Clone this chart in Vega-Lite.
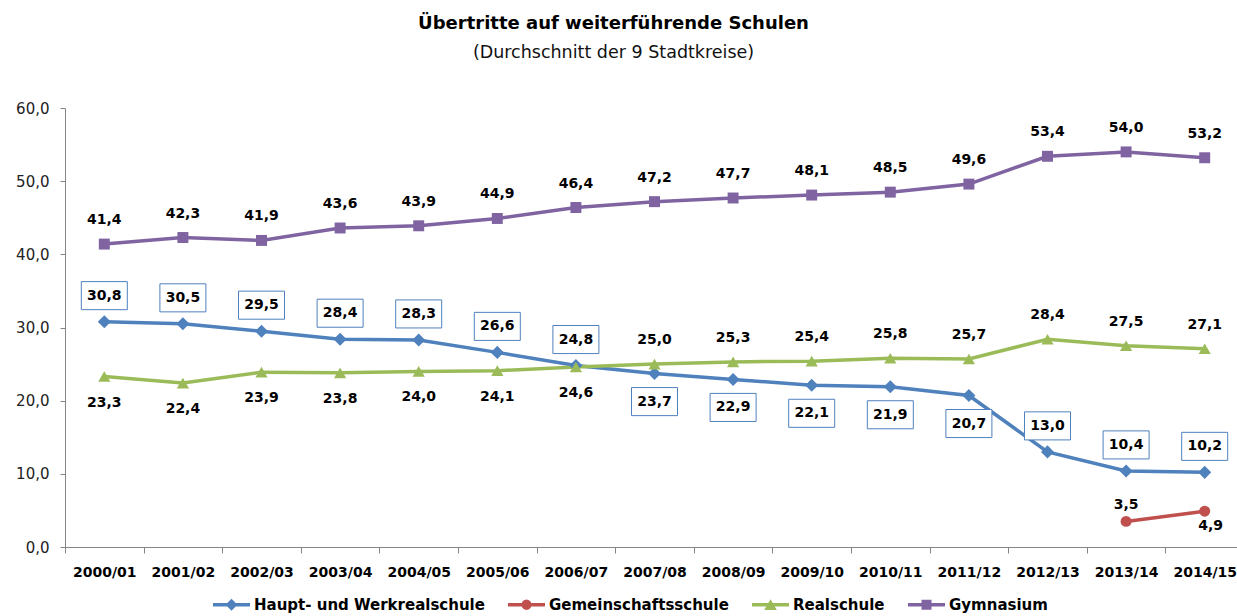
{
  "$schema": "https://vega.github.io/schema/vega-lite/v6.json",
  "width": 1179,
  "height": 439,
  "autosize": {"type": "none"},
  "padding": {"left": 65, "top": 108, "right": 0, "bottom": 69},
  "background": "white",
  "title": {
    "text": "Übertritte auf weiterführende Schulen",
    "subtitle": "(Durchschnitt der 9 Stadtkreise)",
    "anchor": "middle",
    "dx": -41,
    "offset": 40,
    "font": "DejaVu Sans",
    "fontSize": 18,
    "fontWeight": "bold",
    "color": "#000000",
    "subtitleFont": "DejaVu Sans",
    "subtitleFontSize": 17.5,
    "subtitleColor": "#111111",
    "subtitlePadding": 11
  },
  "config": {
    "view": {"stroke": null},
    "locale": {"number": {"decimal": ",", "thousands": ".", "grouping": [3], "currency": ["", " €"]}}
  },
  "data": {
    "values": [
      {"year": "2000/01", "series": "Haupt- und Werkrealschule", "value": 30.8},
      {"year": "2001/02", "series": "Haupt- und Werkrealschule", "value": 30.5},
      {"year": "2002/03", "series": "Haupt- und Werkrealschule", "value": 29.5},
      {"year": "2003/04", "series": "Haupt- und Werkrealschule", "value": 28.4},
      {"year": "2004/05", "series": "Haupt- und Werkrealschule", "value": 28.3},
      {"year": "2005/06", "series": "Haupt- und Werkrealschule", "value": 26.6},
      {"year": "2006/07", "series": "Haupt- und Werkrealschule", "value": 24.8},
      {"year": "2007/08", "series": "Haupt- und Werkrealschule", "value": 23.7},
      {"year": "2008/09", "series": "Haupt- und Werkrealschule", "value": 22.9},
      {"year": "2009/10", "series": "Haupt- und Werkrealschule", "value": 22.1},
      {"year": "2010/11", "series": "Haupt- und Werkrealschule", "value": 21.9},
      {"year": "2011/12", "series": "Haupt- und Werkrealschule", "value": 20.7},
      {"year": "2012/13", "series": "Haupt- und Werkrealschule", "value": 13.0},
      {"year": "2013/14", "series": "Haupt- und Werkrealschule", "value": 10.4},
      {"year": "2014/15", "series": "Haupt- und Werkrealschule", "value": 10.2},
      {"year": "2013/14", "series": "Gemeinschaftsschule", "value": 3.5},
      {"year": "2014/15", "series": "Gemeinschaftsschule", "value": 4.9},
      {"year": "2000/01", "series": "Realschule", "value": 23.3},
      {"year": "2001/02", "series": "Realschule", "value": 22.4},
      {"year": "2002/03", "series": "Realschule", "value": 23.9},
      {"year": "2003/04", "series": "Realschule", "value": 23.8},
      {"year": "2004/05", "series": "Realschule", "value": 24.0},
      {"year": "2005/06", "series": "Realschule", "value": 24.1},
      {"year": "2006/07", "series": "Realschule", "value": 24.6},
      {"year": "2007/08", "series": "Realschule", "value": 25.0},
      {"year": "2008/09", "series": "Realschule", "value": 25.3},
      {"year": "2009/10", "series": "Realschule", "value": 25.4},
      {"year": "2010/11", "series": "Realschule", "value": 25.8},
      {"year": "2011/12", "series": "Realschule", "value": 25.7},
      {"year": "2012/13", "series": "Realschule", "value": 28.4},
      {"year": "2013/14", "series": "Realschule", "value": 27.5},
      {"year": "2014/15", "series": "Realschule", "value": 27.1},
      {"year": "2000/01", "series": "Gymnasium", "value": 41.4},
      {"year": "2001/02", "series": "Gymnasium", "value": 42.3},
      {"year": "2002/03", "series": "Gymnasium", "value": 41.9},
      {"year": "2003/04", "series": "Gymnasium", "value": 43.6},
      {"year": "2004/05", "series": "Gymnasium", "value": 43.9},
      {"year": "2005/06", "series": "Gymnasium", "value": 44.9},
      {"year": "2006/07", "series": "Gymnasium", "value": 46.4},
      {"year": "2007/08", "series": "Gymnasium", "value": 47.2},
      {"year": "2008/09", "series": "Gymnasium", "value": 47.7},
      {"year": "2009/10", "series": "Gymnasium", "value": 48.1},
      {"year": "2010/11", "series": "Gymnasium", "value": 48.5},
      {"year": "2011/12", "series": "Gymnasium", "value": 49.6},
      {"year": "2012/13", "series": "Gymnasium", "value": 53.4},
      {"year": "2013/14", "series": "Gymnasium", "value": 54.0},
      {"year": "2014/15", "series": "Gymnasium", "value": 53.2}
    ]
  },
  "encoding": {
    "x": {
      "field": "year",
      "type": "nominal",
      "sort": null,
      "scale": {"type": "band", "paddingInner": 0, "paddingOuter": 0},
      "axis": {
        "title": null,
        "labelAngle": 0,
        "labelFont": "DejaVu Sans",
        "labelFontSize": 14,
        "labelFontWeight": "bold",
        "labelColor": "#000000",
        "labelPadding": 12,
        "tickBand": "extent",
        "tickSize": 6,
        "tickColor": "#868686",
        "domainColor": "#868686",
        "grid": false
      }
    },
    "y": {
      "field": "value",
      "type": "quantitative",
      "scale": {"domain": [0, 60], "nice": false},
      "axis": {
        "title": null,
        "values": [0, 10, 20, 30, 40, 50, 60],
        "format": ".1f",
        "labelFont": "DejaVu Sans",
        "labelFontSize": 15,
        "labelColor": "#222222",
        "labelPadding": 11,
        "tickSize": 5,
        "tickColor": "#868686",
        "domainColor": "#868686",
        "grid": false
      }
    }
  },
  "layer": [
    {
      "mark": {"type": "line", "strokeWidth": 3.5},
      "encoding": {
        "color": {
          "field": "series",
          "type": "nominal",
          "scale": {
            "domain": ["Haupt- und Werkrealschule", "Gemeinschaftsschule", "Realschule", "Gymnasium"],
            "range": ["#4F81BD", "#C0504D", "#9BBB59", "#8064A2"]
          },
          "legend": {
            "orient": "none",
            "legendX": 148,
            "legendY": 478,
            "direction": "horizontal",
            "title": null,
            "padding": 0,
            "symbolSize": 1369,
            "symbolType": "M-1,-0.09H1V0.09H-1Z",
            "labelFont": "DejaVu Sans",
            "labelFontSize": 15,
            "labelFontWeight": "bold",
            "labelColor": "#000000",
            "labelOffset": 4,
            "columnPadding": 23,
            "labelLimit": 400,
            "encode": {
              "symbols": {
                "update": {
                  "shape": {"signal": "datum.value === 'Haupt- und Werkrealschule' ? 'M-1,-0.09H1V0.09H-1Z M0,-0.32L0.32,0L0,0.32L-0.32,0Z' : datum.value === 'Gemeinschaftsschule' ? 'M-1,-0.09H1V0.09H-1Z M0.28,0L0.2425,0.14L0.14,0.2425L0,0.28L-0.14,0.2425L-0.2425,0.14L-0.28,0L-0.2425,-0.14L-0.14,-0.2425L0,-0.28L0.14,-0.2425L0.2425,-0.14Z' : datum.value === 'Realschule' ? 'M-1,-0.09H1V0.09H-1Z M0,-0.3L0.34,0.28H-0.34Z' : 'M-1,-0.09H1V0.09H-1Z M-0.27,-0.27H0.27V0.27H-0.27Z'"},
                  "fill": {"signal": "datum.value === 'Haupt- und Werkrealschule' ? '#4F81BD' : datum.value === 'Gemeinschaftsschule' ? '#C0504D' : datum.value === 'Realschule' ? '#9BBB59' : '#8064A2'"},
                  "stroke": {"value": "transparent"},
                  "strokeWidth": {"value": 0},
                  "opacity": {"value": 1},
                  "fillOpacity": {"value": 1}
                }
              }
            }
          }
        }
      }
    },
    {
      "transform": [{"filter": "datum.series === 'Haupt- und Werkrealschule'"}],
      "mark": {"type": "point", "shape": "diamond", "filled": true, "size": 170, "opacity": 1, "color": "#4F81BD"},
      "encoding": {}
    },
    {
      "transform": [{"filter": "datum.series === 'Gemeinschaftsschule'"}],
      "mark": {"type": "point", "shape": "circle", "filled": true, "size": 120, "opacity": 1, "color": "#C0504D"},
      "encoding": {}
    },
    {
      "transform": [{"filter": "datum.series === 'Realschule'"}],
      "mark": {"type": "point", "shape": "triangle-up", "filled": true, "size": 150, "opacity": 1, "color": "#9BBB59"},
      "encoding": {}
    },
    {
      "transform": [{"filter": "datum.series === 'Gymnasium'"}],
      "mark": {"type": "point", "shape": "square", "filled": true, "size": 120, "opacity": 1, "color": "#8064A2"},
      "encoding": {}
    },
    {
      "transform": [{"filter": "datum.series === 'Haupt- und Werkrealschule' && indexof(['2007/08','2008/09','2009/10','2010/11','2011/12'], datum.year) < 0"}],
      "mark": {"type": "point", "shape": "M-1,-0.61H1V0.61H-1Z", "size": 2116, "filled": false, "fill": "white", "fillOpacity": 1, "stroke": "#4F81BD", "strokeWidth": 1, "opacity": 1, "yOffset": -26},
      "encoding": {}
    },
    {
      "transform": [{"filter": "datum.series === 'Haupt- und Werkrealschule' && indexof(['2007/08','2008/09','2009/10','2010/11','2011/12'], datum.year) >= 0"}],
      "mark": {"type": "point", "shape": "M-1,-0.61H1V0.61H-1Z", "size": 2116, "filled": false, "fill": "white", "fillOpacity": 1, "stroke": "#4F81BD", "strokeWidth": 1, "opacity": 1, "yOffset": 28},
      "encoding": {}
    },
    {
      "transform": [{"filter": "(datum.series === 'Haupt- und Werkrealschule' && indexof(['2007/08','2008/09','2009/10','2010/11','2011/12'], datum.year) < 0)"}],
      "mark": {"type": "text", "font": "DejaVu Sans", "fontSize": 14, "fontWeight": "bold", "color": "#000000", "baseline": "middle", "align": "center", "dy": -26},
      "encoding": {"text": {"field": "value", "type": "quantitative", "format": ".1f"}}
    },
    {
      "transform": [{"filter": "datum.series === 'Gymnasium' || (datum.series === 'Realschule' && indexof(['2000/01','2001/02','2002/03','2003/04','2004/05','2005/06','2006/07'], datum.year) < 0)"}],
      "mark": {"type": "text", "font": "DejaVu Sans", "fontSize": 14, "fontWeight": "bold", "color": "#000000", "baseline": "middle", "align": "center", "dy": -24},
      "encoding": {"text": {"field": "value", "type": "quantitative", "format": ".1f"}}
    },
    {
      "transform": [{"filter": "datum.series === 'Haupt- und Werkrealschule' && indexof(['2007/08','2008/09','2009/10','2010/11','2011/12'], datum.year) >= 0"}],
      "mark": {"type": "text", "font": "DejaVu Sans", "fontSize": 14, "fontWeight": "bold", "color": "#000000", "baseline": "middle", "align": "center", "dy": 28},
      "encoding": {"text": {"field": "value", "type": "quantitative", "format": ".1f"}}
    },
    {
      "transform": [{"filter": "datum.series === 'Realschule' && indexof(['2000/01','2001/02','2002/03','2003/04','2004/05','2005/06','2006/07'], datum.year) >= 0"}],
      "mark": {"type": "text", "font": "DejaVu Sans", "fontSize": 14, "fontWeight": "bold", "color": "#000000", "baseline": "middle", "align": "center", "dy": 26},
      "encoding": {"text": {"field": "value", "type": "quantitative", "format": ".1f"}}
    },
    {
      "transform": [{"filter": "datum.series === 'Gemeinschaftsschule' && datum.year === '2013/14'"}],
      "mark": {"type": "text", "font": "DejaVu Sans", "fontSize": 14, "fontWeight": "bold", "color": "#000000", "baseline": "middle", "align": "center", "dy": -16},
      "encoding": {"text": {"field": "value", "type": "quantitative", "format": ".1f"}}
    },
    {
      "transform": [{"filter": "datum.series === 'Gemeinschaftsschule' && datum.year === '2014/15'"}],
      "mark": {"type": "text", "font": "DejaVu Sans", "fontSize": 14, "fontWeight": "bold", "color": "#000000", "baseline": "middle", "align": "center", "dy": 15, "dx": 6},
      "encoding": {"text": {"field": "value", "type": "quantitative", "format": ".1f"}}
    }
  ]
}
